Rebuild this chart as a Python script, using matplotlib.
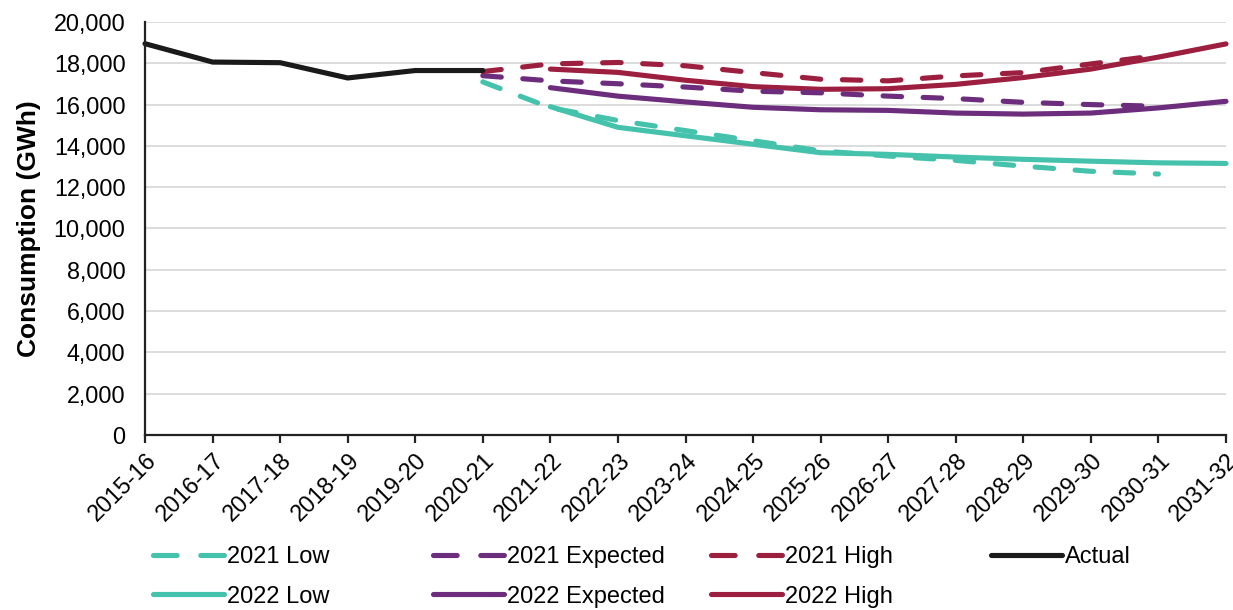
import numpy as np
import matplotlib.pyplot as plt
from matplotlib.ticker import FuncFormatter

plt.rcParams['font.family'] = ['Liberation Sans', 'DejaVu Sans']

years = ['2015-16', '2016-17', '2017-18', '2018-19', '2019-20', '2020-21',
         '2021-22', '2022-23', '2023-24', '2024-25', '2025-26', '2026-27',
         '2027-28', '2028-29', '2029-30', '2030-31', '2031-32']

nan = np.nan
actual = [18950, 18060, 18030, 17290, 17650, 17650] + [nan] * 11

low_2021 = [nan] * 5 + [17100, 15850, 15230, 14740, 14250, 13760, 13510, 13300,
                        13020, 12770, 12640, nan]
exp_2021 = [nan] * 5 + [17400, 17150, 17010, 16850, 16650, 16570, 16410, 16290,
                        16110, 16000, 15920, nan]
high_2021 = [nan] * 5 + [17600, 17970, 18040, 17880, 17550, 17230, 17150, 17390,
                         17550, 17970, 18380, nan]

low_2022 = [nan] * 6 + [15900, 14900, 14490, 14080, 13670, 13590, 13460, 13350,
                        13260, 13180, 13150]
exp_2022 = [nan] * 6 + [16820, 16410, 16130, 15870, 15750, 15720, 15590, 15540,
                        15590, 15840, 16160]
high_2022 = [nan] * 6 + [17720, 17560, 17180, 16870, 16740, 16770, 16980, 17310,
                         17720, 18300, 18940]

teal = '#45C2AC'
purple = '#6C2D7C'
red = '#9C1F40'
black = '#1A1A1A'

x = np.arange(len(years))
fs = 16.8
lw = 3.7

fig = plt.figure(figsize=(12.33, 6.10), dpi=100)
ax = fig.add_axes([145 / 1233, 1 - 435 / 610, (1226 - 145) / 1233, (435 - 22) / 610])

dash = dict(linestyle=(0, (3.6, 4.2)), dash_capstyle='round', linewidth=lw, clip_on=False)
solid = dict(linestyle='-', solid_capstyle='round', linewidth=lw, clip_on=False)

l22_low, = ax.plot(x, low_2022, color=teal, label='2022 Low', **solid)
l22_exp, = ax.plot(x, exp_2022, color=purple, label='2022 Expected', **solid)
l22_high, = ax.plot(x, high_2022, color=red, label='2022 High', **solid)
l21_low, = ax.plot(x, low_2021, color=teal, label='2021 Low', **dash)
l21_exp, = ax.plot(x, exp_2021, color=purple, label='2021 Expected', **dash)
l21_high, = ax.plot(x, high_2021, color=red, label='2021 High', **dash)
l_act, = ax.plot(x, actual, color=black, label='Actual', **solid)

ax.set_xlim(0, 16)
ax.set_ylim(0, 20000)
ax.set_yticks(np.arange(0, 20001, 2000))
ax.yaxis.set_major_formatter(FuncFormatter(lambda v, p: f'{int(v):,}'))
ax.set_xticks(x)
ax.set_xticklabels(years, rotation=45, ha='right', rotation_mode='anchor')

ax.grid(axis='y', color='#D9D9D9', linewidth=1.3)
ax.set_axisbelow(True)
for s in ['top', 'right']:
    ax.spines[s].set_visible(False)
for s in ['left', 'bottom']:
    ax.spines[s].set_color('#222222')
    ax.spines[s].set_linewidth(1.6)

ax.tick_params(axis='y', length=0, pad=14, labelsize=fs, colors='black')
ax.tick_params(axis='x', length=6, width=1.6, color='#222222', pad=4, labelsize=fs)

ax.set_ylabel('Consumption (GWh)', fontsize=19, fontweight='bold', labelpad=9)

# legend: four equally spaced columns, like the original
cols = [([l21_low, l22_low], 153), ([l21_exp, l22_exp], 433),
        ([l21_high, l22_high], 711), ([l_act], 991)]
for handles, px in cols:
    leg = fig.legend(handles=handles, loc='upper left',
                     bbox_to_anchor=(px / 1233, 1 - 546 / 610),
                     frameon=False, fontsize=17, handlelength=3.0,
                     handletextpad=0.15, labelspacing=0.75, borderpad=0,
                     borderaxespad=0)
    for h in leg.get_lines():
        if h.get_linestyle() != '-':
            h.set_dashes((4.6, 4.6))

fig.savefig('out.png', dpi=100)
